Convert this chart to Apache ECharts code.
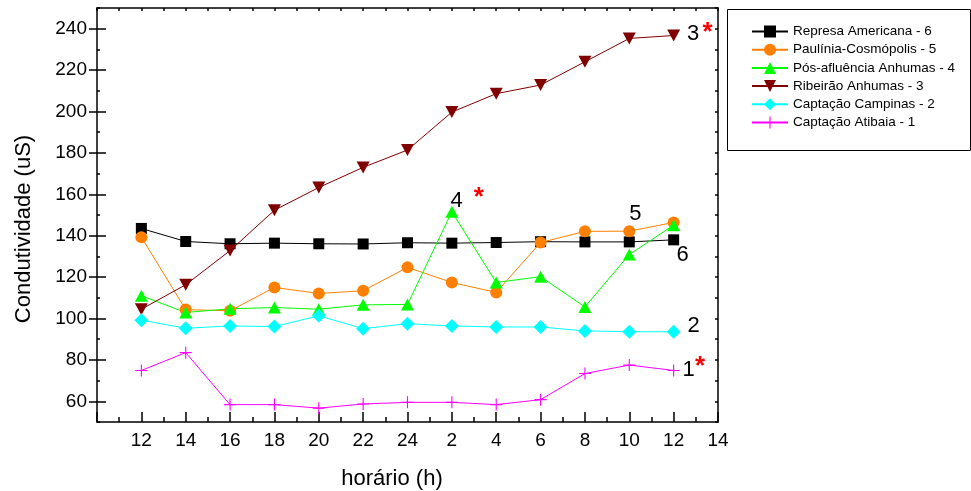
<!DOCTYPE html>
<html>
<head>
<meta charset="utf-8">
<script src="https://cdn.jsdelivr.net/npm/echarts@6/dist/echarts.min.js"></script>
<style>
  html, body { margin: 0; padding: 0; background: #fff; }
  #chart { width: 971px; height: 491px; }
</style>
</head>
<body>
<div id="chart"></div>
<script>
// Sampling hours (one label per x position; data occupy the first 13)
const hourLabels = ['12', '14', '16', '18', '20', '22', '24', '2', '4', '6', '8', '10', '12', '14'];

// Conductivity (uS) per sampling point
const represaAmericana    = [143.5, 137.2, 136.1, 136.4, 136.1, 136.0, 136.6, 136.4, 136.7, 137.1, 137.0, 137.0, 138.0];
const pauliniaCosmopolis  = [139.3, 104.3, 103.7, 115.0, 112.1, 113.4, 124.7, 117.4, 112.6, 136.7, 142.1, 142.2, 146.4];
const posAfluenciaAnhumas = [111.0, 102.9, 104.7, 105.3, 104.5, 106.6, 106.8, 151.6, 117.4, 120.2, 105.6, 130.9, 145.1];
const ribeiraoAnhumas     = [104.5, 116.3, 132.8, 152.3, 163.3, 173.0, 181.4, 199.7, 208.6, 212.8, 224.0, 235.3, 236.7];
const captacaoCampinas    = [99.2, 95.3, 96.4, 96.1, 101.3, 95.1, 97.5, 96.4, 95.9, 95.9, 94.0, 93.6, 93.6];
const captacaoAtibaia     = [74.9, 83.5, 58.4, 58.4, 56.7, 58.7, 59.5, 59.5, 58.4, 60.8, 73.4, 77.5, 74.9];

const seriesNames = [
  'Represa Americana - 6',
  'Paulínia-Cosmópolis - 5',
  'Pós-afluência Anhumas - 4',
  'Ribeirão Anhumas - 3',
  'Captação Campinas - 2',
  'Captação Atibaia - 1'
];

// Y tick labels
const yMajorTicks = [60, 80, 100, 120, 140, 160, 180, 200, 220, 240];

const FONT = '"Liberation Sans", Arial, sans-serif';

const SYMBOL_DOWN = 'path://M0,0L12,0L6,11Z';
const SYMBOL_PLUS = 'path://M5.45,0H6.55V5.45H12V6.55H6.55V12H5.45V6.55H0V5.45H5.45Z';

const seriesDefs = [
  { name: seriesNames[0], values: represaAmericana,    color: '#000000', symbol: 'rect',     size: 11 },
  { name: seriesNames[1], values: pauliniaCosmopolis,  color: '#FF8000', symbol: 'circle',   size: 12 },
  { name: seriesNames[2], values: posAfluenciaAnhumas, color: '#00FF00', symbol: 'triangle', size: [13, 12] },
  { name: seriesNames[3], values: ribeiraoAnhumas,     color: '#800000', symbol: SYMBOL_DOWN, size: [13, 12] },
  { name: seriesNames[4], values: captacaoCampinas,    color: '#00FFFF', symbol: 'diamond',  size: 14 },
  { name: seriesNames[5], values: captacaoAtibaia,     color: '#FF00FF', symbol: SYMBOL_PLUS, size: 12 }
];

const axisLineStyle = { color: '#000', width: 1.5 };
const yScale = { type: 'value', min: 50, max: 250, interval: 10, splitLine: { show: false } };

const chart = echarts.init(document.getElementById('chart'), null, { renderer: 'canvas' });

chart.setOption({
  animation: false,
  backgroundColor: '#fff',
  textStyle: { fontFamily: FONT },
  grid: { left: 97, top: 8, width: 621, height: 414, containLabel: false, outerBoundsMode: 'none' },
  xAxis: [
    {
      type: 'value', min: -1, max: 13, interval: 1, position: 'bottom',
      axisLine: { onZero: false, lineStyle: axisLineStyle },
      axisTick: { inside: true, length: 10, lineStyle: axisLineStyle },
      minorTick: { show: true, splitNumber: 2, length: 5, lineStyle: axisLineStyle },
      splitLine: { show: false },
      axisLabel: {
        formatter: v => (v >= 0 && v < hourLabels.length ? hourLabels[v] : ''),
        fontSize: 19, color: '#000', margin: 9, fontFamily: FONT
      },
      name: 'horário (h)', nameLocation: 'middle', nameGap: 46,
      nameTextStyle: { fontSize: 22, color: '#000', fontFamily: FONT, padding: [0, 31, 0, 0] }
    },
    {
      type: 'value', min: -1, max: 13, interval: 1, position: 'top',
      axisLine: { onZero: false, lineStyle: axisLineStyle },
      axisTick: { inside: true, length: 3, lineStyle: axisLineStyle },
      minorTick: { show: true, splitNumber: 2, length: 3, lineStyle: axisLineStyle },
      splitLine: { show: false },
      axisLabel: { show: false }
    }
  ],
  yAxis: [
    Object.assign({}, yScale, {
      position: 'left',
      axisLine: { onZero: false, lineStyle: axisLineStyle },
      axisTick: { customValues: yMajorTicks, length: 8, lineStyle: axisLineStyle },
      axisLabel: { customValues: yMajorTicks, fontSize: 19, color: '#000', margin: 10, fontFamily: FONT },
      name: 'Condutividade (uS)', nameLocation: 'middle', nameGap: 62,
      nameTextStyle: { fontSize: 22, color: '#000', fontFamily: FONT, padding: [0, 28, 0, 0] }
    }),
    Object.assign({}, yScale, {
      position: 'left',
      axisLine: { show: false, onZero: false },
      axisTick: { customValues: yMajorTicks, inside: true, length: 9, lineStyle: axisLineStyle },
      axisLabel: { show: false }
    }),
    Object.assign({}, yScale, {
      position: 'left',
      axisLine: { show: false, onZero: false },
      axisTick: { inside: true, length: 3, lineStyle: axisLineStyle },
      axisLabel: { show: false }
    }),
    Object.assign({}, yScale, {
      position: 'right',
      axisLine: { onZero: false, lineStyle: axisLineStyle },
      axisTick: { inside: true, length: 3, lineStyle: axisLineStyle },
      axisLabel: { show: false }
    })
  ],
  legend: {
    orient: 'vertical',
    left: 751, top: 24.5,
    padding: 0,
    itemWidth: 36, itemHeight: 15, itemGap: 4.2,
    textStyle: { fontSize: 13.5, color: '#000', fontFamily: FONT },
    data: seriesNames
  },
  series: seriesDefs.map(d => ({
    type: 'line',
    name: d.name,
    xAxisIndex: 0, yAxisIndex: 0,
    data: d.values.map((v, i) => [i, v]),
    symbol: d.symbol,
    symbolSize: d.size,
    showAllSymbol: true,
    color: d.color,
    itemStyle: { color: d.color },
    lineStyle: { color: d.color, width: 1 },
    emphasis: { disabled: true },
    z: 2
  }))
});

// Curve labels placed next to chosen data points, with optional red asterisk
const curveNotes = [
  { values: ribeiraoAnhumas,     index: 12, text: '3', dx: 19.5, dy: -2,  star: [34, -2.5] },
  { values: posAfluenciaAnhumas, index: 7,  text: '4', dx: 4.7,  dy: -11, star: [27, -13.5] },
  { values: pauliniaCosmopolis,  index: 11, text: '5', dx: 6,    dy: -17 },
  { values: represaAmericana,    index: 12, text: '6', dx: 9,    dy: 15 },
  { values: captacaoCampinas,    index: 12, text: '2', dx: 20,   dy: -6 },
  { values: captacaoAtibaia,     index: 12, text: '1', dx: 15,   dy: -1,  star: [26.5, -4] }
];

const graphics = [{
  type: 'rect',
  shape: { x: 727.5, y: 9.5, width: 243, height: 141 },
  style: { fill: 'none', stroke: '#000', lineWidth: 1 },
  z: 0
}];

curveNotes.forEach(n => {
  const p = chart.convertToPixel({ xAxisIndex: 0, yAxisIndex: 0 }, [n.index, n.values[n.index]]);
  graphics.push({
    type: 'text', x: p[0] + n.dx, y: p[1] + n.dy, z: 5,
    style: { text: n.text, fontSize: 22, fill: '#000', fontFamily: FONT, align: 'center', verticalAlign: 'middle' }
  });
  if (n.star) {
    graphics.push({
      type: 'text', x: p[0] + n.star[0], y: p[1] + n.star[1], z: 5,
      style: { text: '*', fontSize: 26, fontWeight: 'bold', fill: '#FF0000', fontFamily: FONT, align: 'center', verticalAlign: 'middle' }
    });
  }
});

chart.setOption({ graphic: graphics });
</script>
</body>
</html>
